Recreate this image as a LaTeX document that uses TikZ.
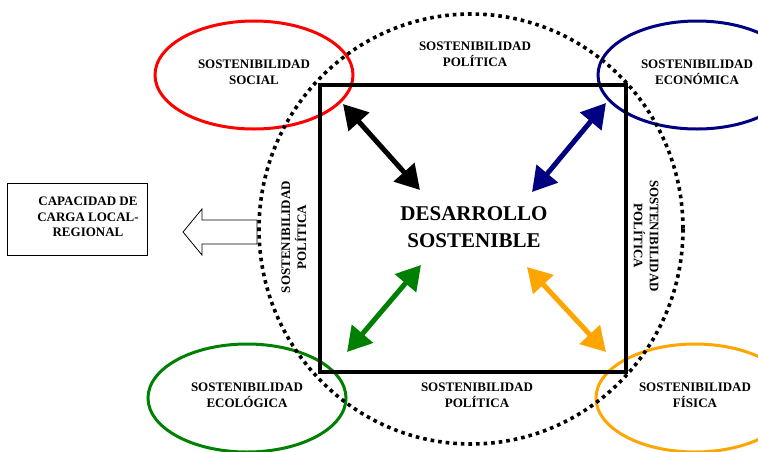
\documentclass[tikz,border=0pt]{standalone}
\usepackage{fontspec}
\setmainfont{Liberation Serif}
\usetikzlibrary{arrows.meta}
\definecolor{socred}{RGB}{255,0,0}
\definecolor{econblue}{RGB}{0,0,128}
\definecolor{ecolgreen}{RGB}{0,128,0}
\definecolor{fisorange}{RGB}{255,165,0}
\begin{document}
\begin{tikzpicture}[x=1pt,y=-1pt,
  lbl/.style={font=\fontsize{13}{16}\selectfont\bfseries,align=center,inner sep=0pt},
  ring/.style={line width=3pt},
  dbl/.style={line width=5pt,{Triangle[length=24pt,width=27pt]}-{Triangle[length=24pt,width=27pt]}}]
\useasboundingbox (0,0) rectangle (758,451);
\clip (0,0) rectangle (758,451);
\node[draw,line width=0.8pt,minimum width=140pt,minimum height=72pt] (cap) at (77,219) {};
\node[lbl,font=\fontsize{13}{15.5}\selectfont\bfseries] (captxt) at (88,217) {CAPACIDAD DE\\CARGA LOCAL-\\REGIONAL};
\draw[line width=0.8pt,fill=white] (183,232) coordinate (tip) -- ++(19,-23) -- ++(0,11) -- ++(55,0) -- ++(0,24) -- ++(-55,0) -- ++(0,11) -- cycle;
\foreach \nm/\cx/\cy/\col/\txt in {soc/254/75/socred/{SOSTENIBILIDAD\\SOCIAL}, econ/697/75/econblue/{SOSTENIBILIDAD\\ECONÓMICA}, ecol/247/398/ecolgreen/{SOSTENIBILIDAD\\ECOLÓGICA}, fis/695/398/fisorange/{SOSTENIBILIDAD\\FÍSICA}} {
  \draw[ring,\col] (\cx,\cy) ellipse [x radius=99,y radius=54];
  \node[lbl] (\nm) at (\cx,\cy-3) {\txt};
}
\draw[line width=3.6pt,dash pattern=on 3.6pt off 4pt] (471,229) ellipse [x radius=212,y radius=215];
\node[draw,line width=3.2pt,minimum width=306pt,minimum height=287pt] (sq) at (473,228.5) {};
\node[lbl] (poltop) at (475,54) {SOSTENIBILIDAD\\POLÍTICA};
\node[lbl] (polbot) at (477,395) {SOSTENIBILIDAD\\POLÍTICA};
\node[lbl,rotate=90] (polleft) at (294,237) {SOSTENIBILIDAD\\POLÍTICA};
\node[lbl,rotate=-90] (polright) at (646,236) {SOSTENIBILIDAD\\POLÍTICA};
\node[font=\fontsize{21}{27}\selectfont\bfseries,align=center,inner sep=0pt] (ds) at (474,227) {DESARROLLO\\SOSTENIBLE};
\foreach \nm/\ax/\ay/\bx/\by/\col in {nw/343/104/420/190/black, ne/606/103/532/192/econblue, sw/347/352/421/265/ecolgreen, se/606/352/527/267/fisorange} {
  \coordinate (\nm1) at (\ax,\ay);
  \coordinate (\nm2) at (\bx,\by);
  \draw[dbl,\col] (\nm1) -- (\nm2);
}
\end{tikzpicture}
\end{document}
